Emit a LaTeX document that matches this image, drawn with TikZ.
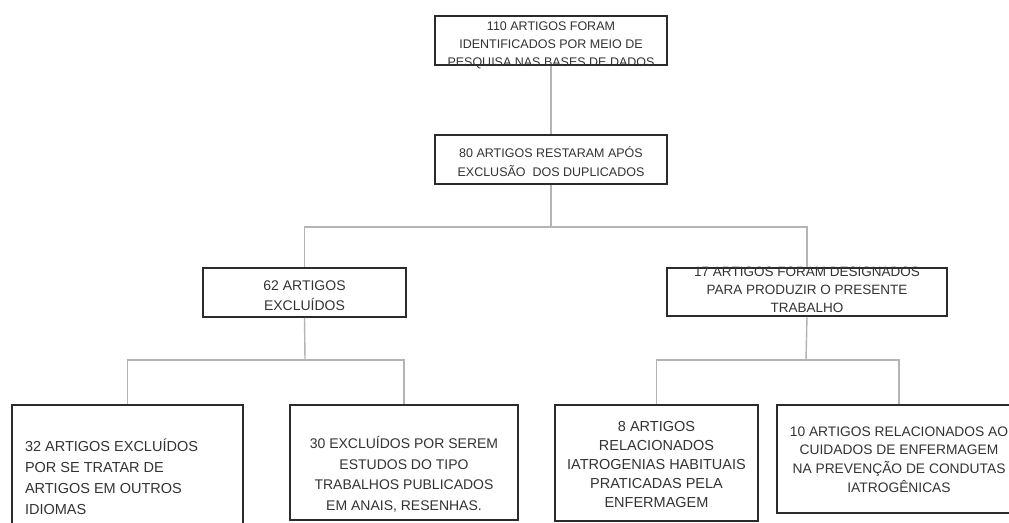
\documentclass[tikz,border=0pt]{standalone}
\usepackage{fontspec}
\setmainfont{Liberation Sans}
\definecolor{bordercol}{HTML}{2B2B2B}
\definecolor{linecol}{HTML}{B4B4B4}
\definecolor{textcol}{HTML}{333333}
\newcommand\ctxt[3]{\raisebox{#2}[0pt][0pt]{\parbox{#1}{\centering #3}}}
\newcommand\ltxt[3]{\raisebox{#2}[0pt][0pt]{\parbox{#1}{\raggedright #3}}}
\tikzset{
  boxst/.style={draw=bordercol, line width=1.8pt, inner sep=0pt, text=textcol},
  conn/.style={draw=linecol, line width=1.4pt},
}
\begin{document}
\begin{tikzpicture}[x=1pt,y=-1pt]
\useasboundingbox (0,0) rectangle (1009,522);
\clip (0,0) rectangle (1009,522);
\fill[white] (0,0) rectangle (1009,522);

\node[boxst, minimum width=232pt, minimum height=49pt, font=\fontsize{12.5}{18}\selectfont] (b1) at (551,40.5)
  {\ctxt{232pt}{-7.6pt}{110 ARTIGOS FORAM\\IDENTIFICADOS POR MEIO DE\\PESQUISA NAS BASES DE DADOS}};
\node[boxst, minimum width=232pt, minimum height=49pt, font=\fontsize{12.5}{19}\selectfont] (b2) at (551,159.5)
  {\ctxt{232pt}{-5.1pt}{80 ARTIGOS RESTARAM APÓS\\EXCLUSÃO~ DOS DUPLICADOS}};
\node[boxst, minimum width=203pt, minimum height=49pt, font=\fontsize{14}{20}\selectfont] (b62) at (304.5,292.5)
  {\ctxt{203pt}{-6.5pt}{62 ARTIGOS\\EXCLUÍDOS}};
\node[boxst, minimum width=280pt, minimum height=48pt, font=\fontsize{13.5}{18}\selectfont] (b17) at (807,292)
  {\ctxt{280pt}{-1.4pt}{17 ARTIGOS FORAM DESIGNADOS\\PARA PRODUZIR O PRESENTE\\TRABALHO}};

\node[boxst, minimum width=231pt, minimum height=145pt, font=\fontsize{14.5}{21}\selectfont] (bA) at (127.5,477.5)
  {\ltxt{205pt}{-2.6pt}{32 ARTIGOS EXCLUÍDOS\\POR SE TRATAR DE\\ARTIGOS EM OUTROS\\IDIOMAS}};
\node[boxst, minimum width=228pt, minimum height=115pt, font=\fontsize{14}{20.7}\selectfont] (bB) at (404,462.5)
  {\ctxt{228pt}{-15.5pt}{30 EXCLUÍDOS POR SEREM\\ESTUDOS DO TIPO\\TRABALHOS PUBLICADOS\\EM ANAIS, RESENHAS.}};
\node[boxst, minimum width=203pt, minimum height=116pt, font=\fontsize{14.5}{19}\selectfont] (bC) at (656.5,463)
  {\ctxt{203pt}{-5.6pt}{8 ARTIGOS\\RELACIONADOS\\IATROGENIAS HABITUAIS\\PRATICADAS PELA\\ENFERMAGEM}};
\node[boxst, minimum width=244pt, minimum height=108pt, font=\fontsize{13.8}{18.7}\selectfont] (bD) at (899,459)
  {\ctxt{244pt}{-4pt}{10 ARTIGOS RELACIONADOS AO\\CUIDADOS DE ENFERMAGEM\\NA PREVENÇÃO DE CONDUTAS\\IATROGÊNICAS}};

\coordinate (j1) at (551,227);
\coordinate (j2) at (305,360);
\coordinate (j3) at (806,360);

\draw[conn] (b1.south) -- (b2.north);
\draw[conn] (b2.south) -- (j1);
\draw[conn] (b62.north) -- (b62.north |- j1) -- (b17.north |- j1) -- (b17.north);
\draw[conn] (b62.south) -- (j2);
\draw[conn] (bA.north) -- (bA.north |- j2) -- (bB.north |- j2) -- (bB.north);
\draw[conn] (b17.south) -- (j3);
\draw[conn] (bC.north) -- (bC.north |- j3) -- (bD.north |- j3) -- (bD.north);
\end{tikzpicture}
\end{document}
